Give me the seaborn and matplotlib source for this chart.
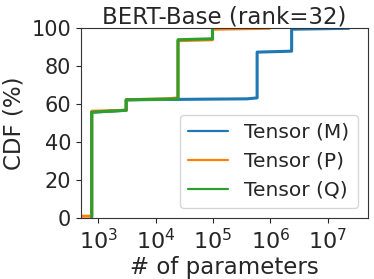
import numpy as np
import pandas as pd
import matplotlib
matplotlib.use("Agg")
import matplotlib.pyplot as plt
import seaborn as sns
from matplotlib.ticker import NullLocator
from matplotlib.lines import Line2D

# Tensor sizes (# of parameters) and how many tensors have that size
m_sizes = [768, 1536, 3072, 393216, 589824, 2359296, 23440896]
m_counts = [111, 1, 12, 1, 49, 24, 1]
p_sizes = [64, 768, 3072, 16384, 24576, 98304, 976704]
p_counts = [1, 111, 12, 1, 61, 12, 1]
q_sizes = [768, 1536, 3072, 24576, 98304]
q_counts = [111, 1, 12, 63, 12]
labels = ["Tensor (M)", "Tensor (P)", "Tensor (Q)"]
colors = ["#1f77b4", "#ff7f0e", "#2ca02c"]

sns.set_style("ticks")
plt.rcParams["font.family"] = ["DejaVu Sans"]

fig = plt.figure(figsize=(3.74, 2.79), dpi=100)
ax = fig.add_axes([0.2166, 0.2186, 0.7665, 0.68])

frames = []
for sizes, counts, lab in [(m_sizes, m_counts, labels[0]),
                           (p_sizes, p_counts, labels[1]),
                           (q_sizes, q_counts, labels[2])]:
    x = np.repeat(sizes, counts).astype(float)
    y = np.arange(1, len(x) + 1) / len(x) * 100
    frames.append(pd.DataFrame({"x": x, "y": y, "series": lab}))
df = pd.concat(frames, ignore_index=True)

sns.lineplot(data=df, x="x", y="y", hue="series", palette=colors,
             estimator=None, sort=False, linewidth=2.2, ax=ax, legend=False)

ax.set_xscale("log")
ax.set_xlim(500, 5e7)
ax.set_ylim(0, 100)
ax.xaxis.set_minor_locator(NullLocator())
ax.set_xticks([1e3, 1e4, 1e5, 1e6, 1e7])
ax.set_yticks([0, 20, 40, 60, 80, 100])
ax.tick_params(axis="y", labelsize=15, length=3.5)
ax.tick_params(axis="x", labelsize=16, length=3.5)
for s in ax.spines.values():
    s.set_visible(True)
    s.set_linewidth(0.8)
    s.set_color("#333333")
ax.set_xlabel("# of parameters", fontsize=16.5, labelpad=2)
ax.set_ylabel("CDF (%)", fontsize=16.5)
ax.set_title("BERT-Base (rank=32)", fontsize=16.5, pad=2)

handles = [Line2D([], [], color=c, linewidth=1.6) for c in colors]
ax.legend(handles, labels, loc="lower right", fontsize=14.5,
          handlelength=2.0, labelspacing=0.5, borderaxespad=0.5)

fig.savefig("out.png", dpi=100)
